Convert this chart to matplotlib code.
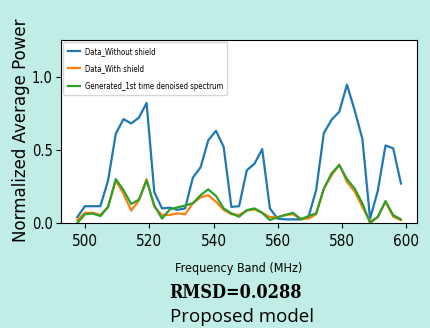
import matplotlib
matplotlib.use("Agg")
import matplotlib.pyplot as plt

# frequency bins (MHz)
freqs = [497.5, 499.9, 502.3, 504.7, 507.1, 509.5, 511.9, 514.3, 516.7, 519.1,
         521.5, 523.9, 526.3, 528.7, 531.1, 533.5, 535.9, 538.3, 540.7, 543.1,
         545.5, 547.9, 550.3, 552.7, 555.1, 557.5, 559.9, 562.3, 564.7, 567.1,
         569.5, 571.9, 574.3, 576.7, 579.1, 581.5, 583.9, 586.3, 588.7, 591.1,
         593.5, 595.9, 598.3]

without_shield = [0.04, 0.115, 0.115, 0.115, 0.29, 0.61, 0.71, 0.68, 0.72, 0.82,
                  0.21, 0.10, 0.105, 0.09, 0.10, 0.31, 0.38, 0.565, 0.63, 0.52,
                  0.11, 0.115, 0.36, 0.405, 0.505, 0.10, 0.03, 0.025, 0.025, 0.025,
                  0.04, 0.225, 0.615, 0.705, 0.76, 0.945, 0.77, 0.575, 0.03, 0.22,
                  0.53, 0.51, 0.27]

with_shield = [0.02, 0.07, 0.07, 0.055, 0.11, 0.29, 0.20, 0.085, 0.155, 0.30,
               0.11, 0.055, 0.055, 0.066, 0.06, 0.135, 0.175, 0.19, 0.145, 0.09,
               0.06, 0.055, 0.085, 0.093, 0.07, 0.04, 0.04, 0.055, 0.06, 0.03,
               0.03, 0.06, 0.235, 0.325, 0.40, 0.28, 0.215, 0.11, 0.01, 0.04,
               0.145, 0.043, 0.02]

denoised = [0.0, 0.06, 0.065, 0.048, 0.11, 0.30, 0.225, 0.13, 0.16, 0.29,
            0.12, 0.03, 0.093, 0.107, 0.12, 0.135, 0.19, 0.23, 0.185, 0.10,
            0.066, 0.043, 0.088, 0.10, 0.07, 0.02, 0.04, 0.055, 0.07, 0.025,
            0.048, 0.066, 0.235, 0.34, 0.395, 0.30, 0.235, 0.134, 0.0, 0.043,
            0.15, 0.054, 0.025]

xticks = [500, 520, 540, 560, 580, 600]
yticks = [0.0, 0.5, 1.0]

fig = plt.figure(figsize=(4.3, 3.28), dpi=100, facecolor='#c0ede6')
ax = fig.add_axes([0.142, 0.320, 0.828, 0.558])

ax.plot(freqs, without_shield, color='#1f77b4', lw=1.6, label='Data_Without shield')
ax.plot(freqs, with_shield, color='#ff7f0e', lw=1.6, label='Data_With shield')
ax.plot(freqs, denoised, color='#2ca02c', lw=1.6, label='Generated_1st time denoised spectrum')

ax.set_ylim(0, 1.25)
ax.set_xticks(xticks)
ax.set_yticks(yticks)
ax.set_xticklabels([str(t) for t in xticks], family='DejaVu Sans',
                   stretch='condensed', fontsize=11)
ax.set_yticklabels(['%.1f' % t for t in yticks], family='DejaVu Sans',
                   stretch='condensed', fontsize=10.5)
ax.tick_params(axis='x', pad=4.5)
ax.tick_params(axis='y', pad=2.5)

leg = ax.legend(loc='upper left',
                prop={'family': 'DejaVu Sans', 'stretch': 'condensed', 'size': 5.6},
                handlelength=1.6, handletextpad=0.6, borderpad=0.55,
                labelspacing=1.1, borderaxespad=0.3)

ax.set_xlabel('Frequency Band (MHz)', family='DejaVu Sans', stretch='condensed',
              fontsize=9, labelpad=9)
fig.text(0.049, 0.604, 'Normalized Average Power', rotation=90, fontsize=12,
         ha='center', va='center', family='DejaVu Sans')
fig.text(0.547, 0.108, 'RMSD=0.0288', fontsize=13, fontweight='bold',
         family='DejaVu Serif', stretch='condensed', ha='center', va='center')
fig.text(0.563, 0.034, 'Proposed model', fontsize=13.5, family='Open Sans',
         ha='center', va='center')

fig.savefig('out.png', dpi=100, facecolor=fig.get_facecolor())
